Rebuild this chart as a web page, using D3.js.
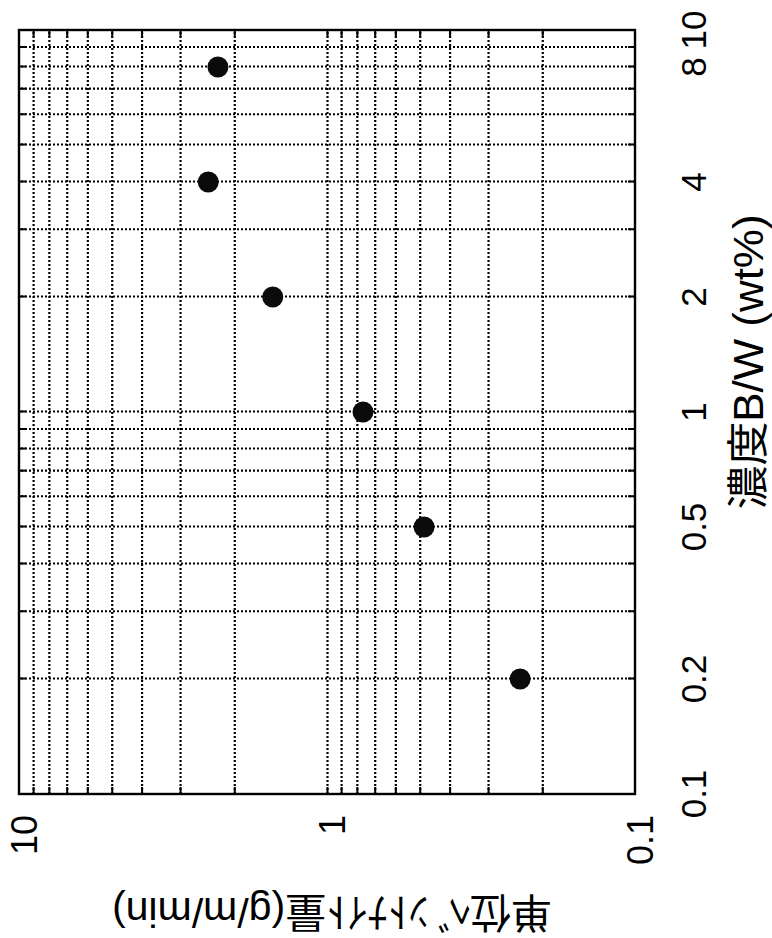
<!DOCTYPE html>
<html><head><meta charset="utf-8">
<script src="https://cdn.jsdelivr.net/npm/d3@7"></script>
<style>body{margin:0;background:#fff} svg{display:block}</style>
</head><body>
<svg id="c" width="772" height="938"></svg>
<script>
// Data (original chart orientation: x = concentration, y = amount)
const concentration = [0.2, 0.5, 1, 2, 4, 8];
const bentoniteAmount = [0.236, 0.484, 0.764, 1.50, 2.43, 2.26];
const xTickValues = [0.1, 0.2, 0.5, 1, 2, 4, 8, 10];
const xTickLabels = ["0.1", "0.2", "0.5", "1", "2", "4", "8", "10"];
const yTickValues = [10, 1, 0.1];
const yTickLabels = ["10", "1", "0.1"];
const xTitle = "濃度B/W (wt%)";
const yTitle = "単位ﾍﾞﾝﾄﾅｲﾄ量(g/m/min)";

const W = 764, H = 616;
const svg = d3.select("#c");
svg.append("rect").attr("width", 772).attr("height", 938).attr("fill", "#fff");
// whole chart is rotated 90° counter-clockwise
const g = svg.append("g").attr("transform", "translate(19,794) rotate(-90)");

const x = d3.scaleLog().domain([0.1, 10]).range([0, W]);
const y = d3.scaleLog().domain([0.1, 10]).range([H, 0]);

const gridX = x.ticks().filter(d => d > 0.1 + 1e-9 && d < 10 - 1e-9);
const gridY = y.ticks().filter(d => d > 0.1 + 1e-9 && d < 10 - 1e-9);

const font = "'Liberation Sans', Arial, 'Noto Sans CJK JP', sans-serif";

// grid
const gx = g.append("g").attr("transform", `translate(0,${H})`)
  .call(d3.axisBottom(x).tickValues(gridX).tickSize(-H).tickFormat(""));
const gy = g.append("g")
  .call(d3.axisLeft(y).tickValues(gridY).tickSize(-W).tickFormat(""));
[gx, gy].forEach(a => {
  a.select(".domain").remove();
  a.selectAll("line").attr("stroke", "#000").attr("stroke-width", 2.2)
    .attr("stroke-dasharray", "2,2");
});

// inward edge ticks
const tk = 7;
const edges = [
  g.append("g").attr("transform", `translate(0,${H})`).call(d3.axisBottom(x).tickValues(gridX).tickSize(-tk).tickFormat("")),
  g.append("g").call(d3.axisTop(x).tickValues(gridX).tickSize(-tk).tickFormat("")),
  g.append("g").call(d3.axisLeft(y).tickValues(gridY).tickSize(-tk).tickFormat("")),
  g.append("g").attr("transform", `translate(${W},0)`).call(d3.axisRight(y).tickValues(gridY).tickSize(-tk).tickFormat(""))
];
edges.forEach(a => {
  a.select(".domain").remove();
  a.selectAll("line").attr("stroke", "#000").attr("stroke-width", 2);
});

// frame
g.append("rect").attr("x", 0).attr("y", 0).attr("width", W).attr("height", H)
  .attr("fill", "none").attr("stroke", "#000").attr("stroke-width", 2.4);

// points
g.selectAll("circle.pt").data(concentration).join("circle")
  .attr("class", "pt")
  .attr("cx", d => x(d))
  .attr("cy", (d, i) => y(bentoniteAmount[i]))
  .attr("r", 10.5)
  .attr("fill", "#0b0b0b");

// x tick labels
g.selectAll("text.xt").data(xTickValues).join("text")
  .attr("class", "xt")
  .attr("x", d => x(d)).attr("y", 687)
  .attr("text-anchor", "middle")
  .attr("font-family", font).attr("font-size", 35).attr("fill", "#000")
  .text((d, i) => xTickLabels[i]);

// y tick labels
g.selectAll("text.yt").data(yTickValues).join("text")
  .attr("class", "yt")
  .attr("x", -21).attr("y", d => y(d) + 18)
  .attr("text-anchor", "end")
  .attr("font-family", font).attr("font-size", 36).attr("fill", "#000")
  .text((d, i) => yTickLabels[i]);

// x title
g.append("text")
  .attr("x", 432).attr("y", 744)
  .attr("text-anchor", "middle")
  .attr("font-family", font).attr("font-size", 42).attr("fill", "#000")
  .attr("textLength", 295).attr("lengthAdjust", "spacingAndGlyphs")
  .text(xTitle);

// y title
g.append("text")
  .attr("transform", "translate(-104,313) rotate(-90)")
  .attr("text-anchor", "middle")
  .attr("font-family", font).attr("font-size", 41).attr("fill", "#000")
  .attr("textLength", 440).attr("lengthAdjust", "spacingAndGlyphs")
  .text(yTitle);
</script>
</body></html>
